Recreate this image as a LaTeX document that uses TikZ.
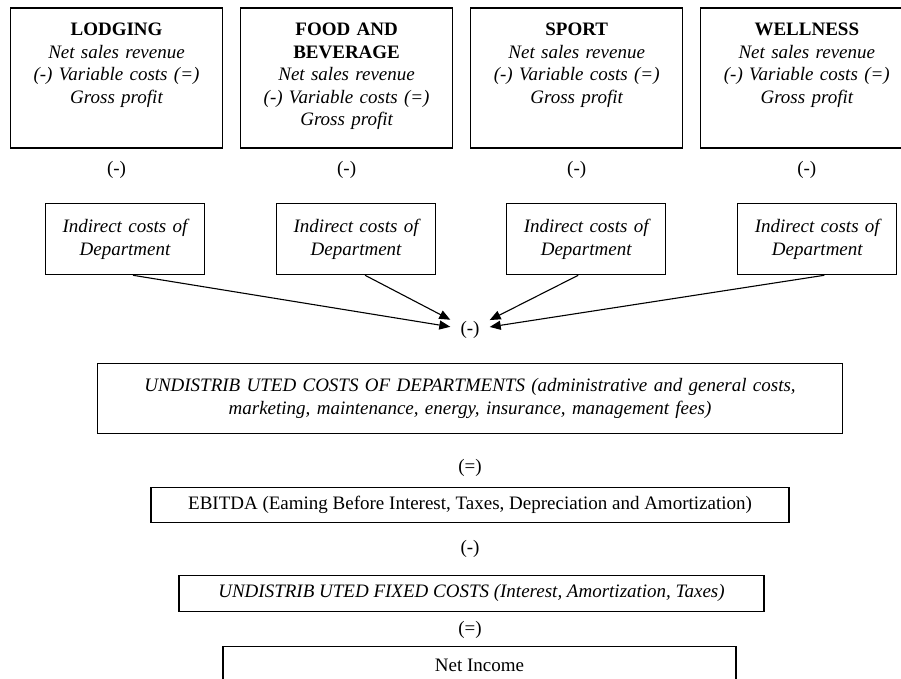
\documentclass[tikz,border=0pt]{standalone}
\usepackage{fontspec}
\setmainfont{Liberation Serif}
\usetikzlibrary{positioning,arrows.meta}

\tikzset{
  dept/.style={draw, line width=1.1pt, text width=200pt, align=center, inner sep=6pt,
    text height=21.5pt, text depth=106.5pt, font=\fontsize{19}{22.5}\selectfont},
  indirect/.style={draw, line width=1.1pt, text width=147pt, align=center, inner sep=6pt,
    minimum height=71pt, font=\fontsize{19}{22.5}\selectfont\itshape},
  total/.style={draw, line width=1.1pt, align=center, inner sep=6pt,
    font=\fontsize{19}{22.5}\selectfont},
  sign/.style={inner sep=2pt, font=\fontsize{19}{22.5}\selectfont},
  arr/.style={line width=1.1pt, -{Triangle[length=11pt,width=9pt]}}
}

\begin{document}
\begin{tikzpicture}[x=1pt,y=-1pt]
\clip (0,0) rectangle (901,678);
\node[dept] (lodging) at (116.5,78) {{\bfseries LODGING}\\ \itshape Net sales revenue\\ (-) Variable costs (=)\\ Gross profit};
\node[dept, right=17pt of lodging] (food) {{\bfseries FOOD AND\\ BEVERAGE}\\ \itshape Net sales revenue\\ (-) Variable costs (=)\\ Gross profit};
\node[dept, right=17pt of food] (sport) {{\bfseries SPORT}\\ \itshape Net sales revenue\\ (-) Variable costs (=)\\ Gross profit};
\node[dept, right=17pt of sport] (wellness) {{\bfseries WELLNESS}\\ \itshape Net sales revenue\\ (-) Variable costs (=)\\ Gross profit};
\node[sign, below=11pt of lodging] (m1) {(-)};
\node[sign, below=11pt of food] (m2) {(-)};
\node[sign, below=11pt of sport] (m3) {(-)};
\node[sign, below=11pt of wellness] (m4) {(-)};
\node[indirect, below=22pt of m1, xshift=8.5pt] (ind1) {Indirect costs of\\ Department};
\node[indirect, right=71pt of ind1] (ind2) {Indirect costs of\\ Department};
\node[indirect, right=70pt of ind2] (ind3) {Indirect costs of\\ Department};
\node[indirect, right=71pt of ind3] (ind4) {Indirect costs of\\ Department};
\node[sign, inner xsep=10pt] (sum) at (470,330) {(-)};
\draw[arr] ([xshift=8pt]ind1.south) -- (sum);
\draw[arr] ([xshift=9pt]ind2.south) -- (sum);
\draw[arr] ([xshift=-8pt]ind3.south) -- (sum);
\draw[arr] ([xshift=7pt]ind4.south) -- (sum);
\node[total, below=22pt of sum, text width=733pt, minimum height=70pt, font=\fontsize{19}{22.5}\selectfont\itshape] (undist) {UNDISTRIB UTED COSTS OF DEPARTMENTS (administrative and general costs,\\ marketing, maintenance, energy, insurance, management fees)};
\node[sign, below=23pt of undist] (eq1) {(=)};
\node[total, below=8.5pt of eq1, minimum width=638pt, minimum height=35pt] (ebitda) {EBITDA (Eaming Before Interest, Taxes, Depreciation and Amortization)};
\node[sign, below=14.5pt of ebitda] (m5) {(-)};
\node[total, below=15.5pt of m5, xshift=1.5pt, minimum width=585pt, minimum height=36pt, font=\fontsize{19}{22.5}\selectfont\itshape] (fixed) {UNDISTRIB UTED FIXED COSTS (Interest, Amortization, Taxes)};
\node[sign, below=7.5pt of fixed, xshift=-1.5pt] (eq2) {(=)};
\node[total, below=4.5pt of eq2, xshift=9.5pt, minimum width=513pt, text height=19pt, text depth=40pt] (net) {Net Income};
\end{tikzpicture}
\end{document}
